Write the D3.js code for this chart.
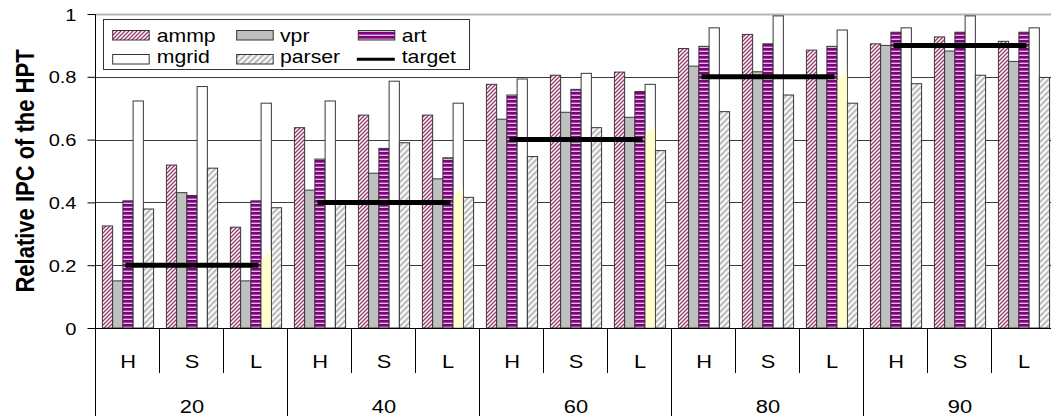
<!DOCTYPE html>
<html><head><meta charset="utf-8">
<script src="https://cdn.jsdelivr.net/npm/d3@7"></script>
<style>
html,body{margin:0;padding:0;background:#fff;overflow:hidden}
svg{display:block;font-family:"Liberation Sans",Arial,sans-serif}
</style></head><body>
<svg id="chart" width="1051" height="416"></svg>
<script>
// Relative IPC of the high-priority thread, per target load and policy
const loads = ["20", "40", "60", "80", "90"];
const modes = ["H", "S", "L"];
const seriesNames = ["ammp", "vpr", "art", "mgrid", "parser"];

// one value per (load, mode): 20H 20S 20L 40H ...
const ammp   = [0.325, 0.519, 0.321, 0.638, 0.678, 0.678, 0.776, 0.805, 0.815, 0.890, 0.935, 0.885, 0.905, 0.927, 0.913];
const vpr    = [0.150, 0.431, 0.150, 0.439, 0.493, 0.475, 0.665, 0.687, 0.671, 0.834, 0.816, 0.800, 0.900, 0.882, 0.849];
const art    = [0.405, 0.422, 0.405, 0.538, 0.572, 0.542, 0.742, 0.760, 0.753, 0.897, 0.905, 0.897, 0.942, 0.942, 0.942];
const mgrid  = [0.723, 0.769, 0.716, 0.723, 0.786, 0.716, 0.793, 0.811, 0.776, 0.956, 0.994, 0.949, 0.956, 0.994, 0.956];
const parser = [0.379, 0.509, 0.383, 0.398, 0.590, 0.416, 0.546, 0.638, 0.565, 0.689, 0.742, 0.716, 0.778, 0.805, 0.798];
const target = [0.2, 0.4, 0.6, 0.8, 0.9];
// pale tint inside the mgrid bar of each L column
const lTint  = [0.248, 0.450, 0.646, 0.822, null];

const yTicks = [0, 0.2, 0.4, 0.6, 0.8, 1];
const yTickLabels = ["0", "0.2", "0.4", "0.6", "0.8", "1"];
const yTitle = "Relative IPC of the HPT";

const seriesValues = { ammp, vpr, art, mgrid, parser };

const svg = d3.select("#chart");
const SX = 1.18; // horizontal text stretch

const plotL = 96, plotR = 1056, plotT = 14, plotB = 328;

const x0 = d3.scaleBand().domain(loads).range([plotL, plotR]);
const x1 = d3.scaleBand().domain(modes).range([0, x0.bandwidth()]);
const x2 = d3.scaleBand().domain(seriesNames).range([0, x1.bandwidth()]).paddingInner(0).paddingOuter(0.625);
const y = d3.scaleLinear().domain([0, 1]).range([plotB, plotT]);

// fill patterns
const defs = svg.append("defs");
function diag(id, size, color, width) {
  const p = defs.append("pattern").attr("id", id).attr("patternUnits", "userSpaceOnUse")
    .attr("width", size).attr("height", size);
  p.append("rect").attr("width", size).attr("height", size).attr("fill", "#fff");
  p.append("path")
    .attr("d", `M${-size/2},${size/2} L${size/2},${-size/2} M0,${size} L${size},0 M${size/2},${size*1.5} L${size*1.5},${size/2}`)
    .attr("stroke", color).attr("stroke-width", width);
}
diag("pat-ammp", 4, "#993366", 1.25);
diag("pat-parser", 6, "#c0c0c0", 2.4);
const hp = defs.append("pattern").attr("id", "pat-art").attr("patternUnits", "userSpaceOnUse")
  .attr("width", 4).attr("height", 4);
hp.append("rect").attr("width", 4).attr("height", 4).attr("fill", "#800080");
hp.append("rect").attr("y", 2.6).attr("width", 4).attr("height", 1.4).attr("fill", "#dcbcdc");

const fills = { ammp: "url(#pat-ammp)", vpr: "#c0c0c0", art: "url(#pat-art)", mgrid: "#ffffff", parser: "url(#pat-parser)" };

// gridlines
svg.append("g").selectAll("line").data(yTicks.filter(t => t > 0))
  .join("line")
  .attr("x1", plotL).attr("x2", plotR)
  .attr("y1", d => Math.round(y(d)) + 0.5).attr("y2", d => Math.round(y(d)) + 0.5)
  .attr("stroke", d => d === 1 ? "#b4b4b4" : "#3a3a3a")
  .attr("stroke-width", d => d === 1 ? 2 : 1);

// bars
const rows = [];
loads.forEach((ld, i) => modes.forEach((m, j) => seriesNames.forEach(s => {
  rows.push({ load: ld, mode: m, series: s, value: seriesValues[s][i * 3 + j], tint: m === "L" && s === "mgrid" ? lTint[i] : null });
})));
const bx = d => x0(d.load) + x1(d.mode) + x2(d.series);
const bw = x2.bandwidth();

svg.append("g").selectAll("rect").data(rows).join("rect")
  .attr("x", bx).attr("y", d => y(d.value))
  .attr("width", bw).attr("height", d => y(0) - y(d.value))
  .attr("fill", d => fills[d.series])
  .attr("stroke", "#383838").attr("stroke-width", 1);

svg.append("g").selectAll("polygon").data(rows.filter(d => d.tint != null)).join("polygon")
  .attr("points", d => {
    const a = bx(d) + 0.6, b = bx(d) + bw - 0.6, t = y(d.tint), z = y(0) - 0.6;
    return [[a, z], [b, z], [b, t], [a, t + bw]].map(p => p.join(",")).join(" ");
  })
  .attr("fill", "#ffffcc");

// target lines
svg.append("g").selectAll("line").data(loads.map((ld, i) => ({ load: ld, t: target[i] })))
  .join("line")
  .attr("x1", d => x0(d.load) + x1("H") + x1.bandwidth() / 2)
  .attr("x2", d => x0(d.load) + x1("L") + x1.bandwidth() / 2)
  .attr("y1", d => y(d.t)).attr("y2", d => y(d.t))
  .attr("stroke", "#000").attr("stroke-width", 5).attr("stroke-linecap", "square");

// y axis
const yAxis = svg.append("g").attr("transform", `translate(${plotL - 0.5},0)`)
  .call(d3.axisLeft(y).tickValues(yTicks).tickSize(8).tickPadding(0)
    .tickFormat((d, i) => yTickLabels[i]));
yAxis.select(".domain").remove();
yAxis.selectAll(".tick line").attr("stroke", "#000");
yAxis.selectAll(".tick text")
  .attr("x", null).attr("dy", null)
  .attr("transform", `translate(-19,6) scale(${SX},1)`)
  .attr("text-anchor", "end")
  .attr("font-size", 17).attr("font-family", "Liberation Sans, Arial, sans-serif").attr("fill", "#000");
svg.append("line").attr("x1", plotL - 0.5).attr("x2", plotL - 0.5).attr("y1", plotT).attr("y2", 416).attr("stroke", "#000");

svg.append("text")
  .attr("transform", `translate(33.5,${(plotT + plotB) / 2}) rotate(-90) scale(1,${SX})`)
  .attr("text-anchor", "middle").attr("font-size", 22).attr("font-weight", "bold")
  .text(yTitle);

// x axis: baseline, mode separators, load separators
const ax = svg.append("g");
ax.append("line").attr("x1", plotL).attr("x2", plotR).attr("y1", plotB + 0.5).attr("y2", plotB + 0.5).attr("stroke", "#000");
const modeCells = [];
loads.forEach(ld => modes.forEach(m => modeCells.push({ load: ld, mode: m })));
ax.selectAll("line.msep").data(modeCells.filter(d => d.mode !== "H")).join("line")
  .attr("class", "msep")
  .attr("x1", d => Math.round(x0(d.load) + x1(d.mode)) - 0.5).attr("x2", d => Math.round(x0(d.load) + x1(d.mode)) - 0.5)
  .attr("y1", plotB).attr("y2", 373).attr("stroke", "#000");
ax.selectAll("line.lsep").data(loads.slice(1).map(ld => x0(ld)).concat([plotR])).join("line")
  .attr("class", "lsep")
  .attr("x1", d => Math.round(d) - 0.5).attr("x2", d => Math.round(d) - 0.5)
  .attr("y1", plotB).attr("y2", 416).attr("stroke", "#000");
ax.selectAll("text.mode").data(modeCells).join("text")
  .attr("class", "mode")
  .attr("transform", d => `translate(${x0(d.load) + x1(d.mode) + x1.bandwidth() / 2},368) scale(${SX},1)`)
  .attr("text-anchor", "middle").attr("font-size", 18.5)
  .text(d => d.mode);
ax.selectAll("text.load").data(loads).join("text")
  .attr("class", "load")
  .attr("transform", d => `translate(${x0(d) + x0.bandwidth() / 2},413) scale(${SX},1)`)
  .attr("text-anchor", "middle").attr("font-size", 18.5)
  .text(d => d);

// legend
const legendItems = seriesNames.concat(["target"]);
const colSwatchX = [112.7, 236.7, 358.3], colTextX = [156.7, 280, 401.7];
const rowSwatchY = [30.5, 54.5], rowTextY = [41.5, 63];
const lg = svg.append("g");
lg.append("rect").attr("x", 103.5).attr("y", 19.5).attr("width", 366).attr("height", 50)
  .attr("fill", "#fff").attr("stroke", "#333");
legendItems.forEach((name, i) => {
  const c = i % 3, r = Math.floor(i / 3);
  if (name === "target") {
    lg.append("line").attr("x1", colSwatchX[c] - 1.5).attr("x2", colSwatchX[c] + 36.5)
      .attr("y1", rowSwatchY[r] + 4.8).attr("y2", rowSwatchY[r] + 4.8)
      .attr("stroke", "#000").attr("stroke-width", 3);
  } else {
    lg.append("rect").attr("x", colSwatchX[c]).attr("y", rowSwatchY[r]).attr("width", 36.5).attr("height", 9.5)
      .attr("fill", fills[name]).attr("stroke", "#333");
  }
  lg.append("text").attr("transform", `translate(${colTextX[c]},${rowTextY[r]}) scale(${SX},1)`)
    .attr("font-size", 18).text(name);
});
</script>
</body></html>
